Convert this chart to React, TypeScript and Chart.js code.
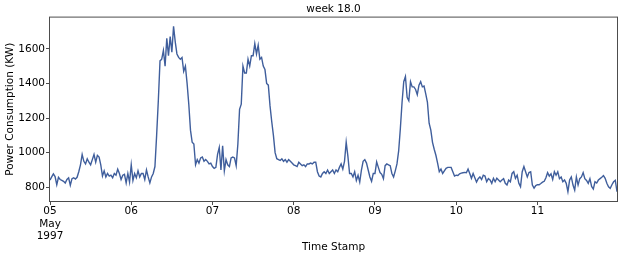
import { useEffect, useRef } from "react";
import { Chart, registerables } from "chart.js";

Chart.register(...registerables);

// Half-hourly power consumption (KW), week 18 of 1997 (05 May .. 11 May)
const day05 = [842, 860, 878, 862, 815, 858, 845, 840, 835, 825, 845, 855, 812, 850, 855, 848, 858, 890, 930, 990, 950, 935, 965, 945, 930, 960, 990, 945, 985, 975, 930, 865, 895, 860, 880, 865, 870, 855, 880, 870, 905, 880, 845, 870, 875, 825, 880, 830];
const day06 = [930, 840, 880, 855, 895, 860, 880, 880, 845, 900, 860, 825, 860, 880, 920, 1100, 1300, 1530, 1540, 1590, 1500, 1660, 1560, 1670, 1580, 1730, 1640, 1570, 1550, 1540, 1550, 1470, 1500, 1400, 1280, 1130, 1060, 1050, 930, 960, 940, 970, 975, 950, 960, 950, 935, 940];
const day07 = [920, 910, 915, 990, 1030, 900, 1040, 895, 960, 930, 920, 970, 975, 970, 925, 1050, 1250, 1280, 1500, 1460, 1460, 1540, 1500, 1560, 1560, 1630, 1570, 1620, 1540, 1550, 1500, 1480, 1400, 1390, 1270, 1180, 1100, 1000, 965, 960, 955, 965, 950, 960, 945, 960, 950, 940];
const day08 = [930, 925, 920, 945, 935, 925, 930, 920, 935, 935, 940, 935, 945, 945, 890, 865, 860, 880, 890, 880, 900, 880, 890, 900, 880, 900, 890, 915, 935, 905, 950, 1060, 980, 880, 880, 860, 890, 840, 870, 830, 900, 950, 960, 940, 900, 860, 835, 880];
const day09 = [880, 947, 915, 885, 875, 850, 925, 935, 930, 925, 880, 860, 895, 935, 1010, 1140, 1290, 1410, 1440, 1320, 1300, 1410, 1380, 1380, 1365, 1335, 1390, 1410, 1380, 1385, 1340, 1290, 1170, 1130, 1060, 1020, 985, 940, 890, 905, 880, 895, 910, 915, 915, 915, 890, 865];
const day10 = [870, 868, 878, 882, 884, 886, 884, 905, 880, 852, 880, 855, 830, 850, 860, 845, 870, 865, 832, 850, 842, 823, 852, 832, 852, 842, 832, 842, 850, 823, 813, 842, 832, 880, 890, 852, 870, 823, 803, 890, 920, 890, 860, 885, 890, 813, 795, 810];
const day11 = [815, 815, 822, 830, 835, 855, 885, 865, 878, 845, 890, 870, 890, 850, 860, 832, 842, 823, 775, 842, 860, 813, 784, 860, 813, 850, 860, 885, 850, 840, 823, 850, 805, 790, 832, 825, 842, 850, 858, 868, 852, 823, 803, 794, 815, 832, 840, 775];

const stepHours = 0.5;
const dayTickHours = [0, 24, 48, 72, 96, 120, 144];
const dayTickLabels: (string | string[])[] = [["05", "May", "1997"], "06", "07", "08", "09", "10", "11"];
const yTickValues = [800, 1000, 1200, 1400, 1600];

export default function App() {
  const ref = useRef<HTMLCanvasElement>(null);

  useEffect(() => {
    const values = [...day05, ...day06, ...day07, ...day08, ...day09, ...day10, ...day11];
    const points = values.map((v, i) => ({ x: i * stepHours, y: v }));
    const font = { family: "'DejaVu Sans', sans-serif", size: 10.5 };

    const frame = {
      id: "frame",
      afterDraw(c: any) {
        const { left, top, right, bottom } = c.chartArea;
        const ctx = c.ctx;
        ctx.save();
        ctx.strokeStyle = "#4d4d4d";
        ctx.lineWidth = 1;
        ctx.strokeRect(left - 0.5, top - 0.5, right - left + 1, bottom - top + 1);
        ctx.restore();
      },
    };

    const chart = new Chart(ref.current as HTMLCanvasElement, {
      type: "line",
      data: {
        datasets: [
          {
            data: points,
            borderColor: "#3f5e9c",
            borderWidth: 1.4,
            pointRadius: 0,
            fill: false,
            tension: 0,
          },
        ],
      },
      options: {
        animation: false,
        responsive: false,
        layout: { padding: { left: 0, top: 0, right: 6, bottom: 0 } },
        plugins: {
          legend: { display: false },
          tooltip: { enabled: false },
          title: {
            display: true,
            text: "week 18.0",
            fullSize: false,
            color: "#000",
            font: { ...font, weight: "normal" },
            padding: { top: 3, bottom: 2 },
          },
        },
        scales: {
          x: {
            type: "linear",
            min: 0,
            max: (values.length - 1) * stepHours,
            afterBuildTicks: (s: any) => {
              s.ticks = dayTickHours.map((v) => ({ value: v }));
            },
            afterFit: (s: any) => {
              s.height = 59;
            },
            ticks: {
              autoSkip: false,
              maxRotation: 0,
              padding: 0,
              color: "#000",
              font,
              callback: (v: any) => dayTickLabels[Math.round(Number(v) / 24)] as any,
            },
            grid: { display: true, drawOnChartArea: false, tickLength: 4, color: "#4d4d4d" },
            border: { display: false },
            title: { display: true, text: "Time Stamp", color: "#000", font, padding: { top: 0, bottom: 6 } },
          },
          y: {
            min: 721,
            max: 1780,
            afterBuildTicks: (s: any) => {
              s.ticks = yTickValues.map((v) => ({ value: v }));
            },
            afterFit: (s: any) => {
              s.width = 50;
            },
            ticks: { padding: 1, color: "#000", font, callback: (v: any) => String(v) },
            grid: { display: true, drawOnChartArea: false, tickLength: 4, color: "#4d4d4d" },
            border: { display: false },
            title: {
              display: true,
              text: "Power Consumption (KW)",
              color: "#000",
              font,
              padding: { top: 4, bottom: 0 },
            },
          },
        },
      },
      plugins: [frame],
    } as any);

    return () => chart.destroy();
  }, []);

  return (
    <div style={{ position: "fixed", left: 0, top: 0, width: 623, height: 260, background: "#fff" }}>
      <canvas ref={ref} width={623} height={260} style={{ display: "block" }} />
    </div>
  );
}
